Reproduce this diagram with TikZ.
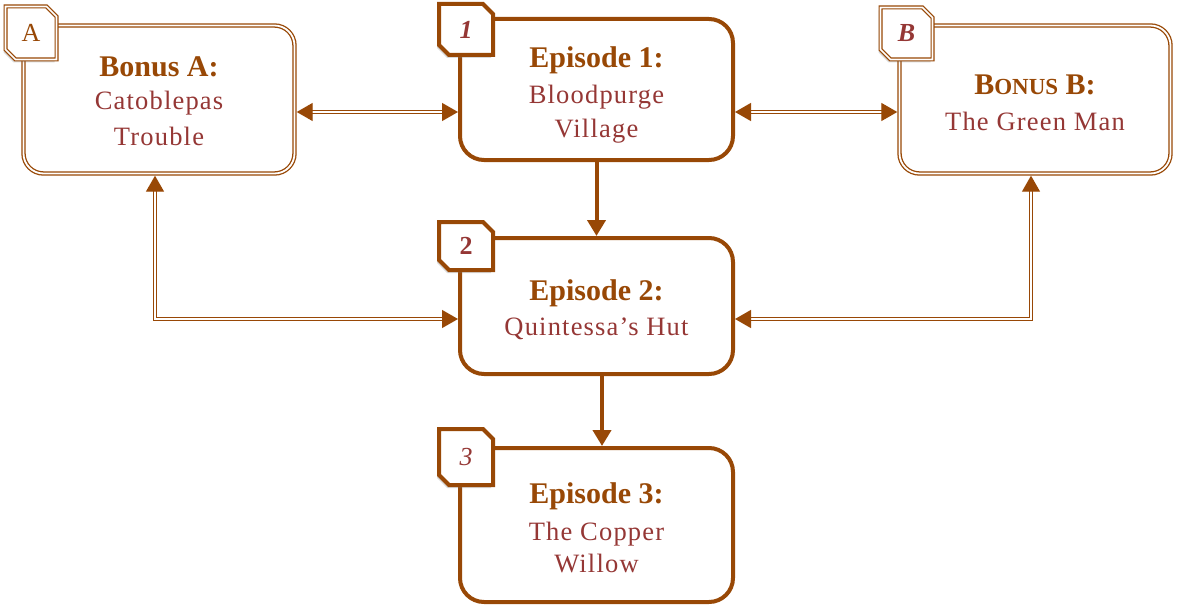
\documentclass[tikz,border=0pt]{standalone}
\usepackage{fontspec}
\setmainfont{Liberation Serif}
\newfontfamily\subf[LetterSpace=4.5]{Liberation Serif}
\usetikzlibrary{arrows.meta,shapes.misc,shadows}
\definecolor{brn}{RGB}{152,72,6}
\definecolor{rd}{RGB}{149,55,53}
\begin{document}
\begin{tikzpicture}[x=1pt,y=-1pt,
  >={Triangle[length=16pt,width=18pt]},
  epbox/.style={draw=brn, line width=4pt, rounded corners=24pt, fill=white},
  bonbox/.style={draw=brn, double=white, line width=1.3pt, double distance=1.8pt, rounded corners=20pt, fill=white, outer sep=2.2pt},
  tabbase/.style={chamfered rectangle, chamfered rectangle corners={north east,south west}, chamfered rectangle xsep=5pt, chamfered rectangle ysep=5pt, fill=white, inner sep=0pt, drop shadow={shadow xshift=-2pt, shadow yshift=-3pt, opacity=0.3}},
  eptab/.style={tabbase, draw=brn, line width=4pt, text=rd},
  bontab/.style={tabbase, draw=brn, double=white, line width=1.2pt, double distance=1.6pt},
  head/.style={anchor=base, text=brn, font=\fontsize{30}{30}\selectfont\bfseries, inner sep=0pt},
  sub/.style={anchor=base, text=rd, font=\fontsize{26.5}{33}\selectfont\subf, inner sep=0pt},
  dblcon/.style={draw=brn, double=white, line width=1.3pt, double distance=1.6pt},
  sglcon/.style={draw=brn, line width=4pt},
  tabtxt/.style={font=\fontsize{26}{26}\selectfont}
]
\useasboundingbox (0,0) rectangle (1177,607);
% boxes
\node[bonbox, minimum width=271pt, minimum height=148pt] (bA) at (159,99.5) {};
\node[epbox, minimum width=273pt, minimum height=141pt] (e1) at (596.5,89.5) {};
\node[bonbox, minimum width=271pt, minimum height=148pt] (bB) at (1035,99.5) {};
\node[epbox, minimum width=273pt, minimum height=136pt] (e2) at (596.5,306) {};
\node[epbox, minimum width=273pt, minimum height=154pt] (e3) at (596.5,525) {};
% helper coordinates
\coordinate (yTop) at (0,112);
\coordinate (yMid) at (0,319);
\coordinate (xL) at (155,0);
\coordinate (xR) at (1031,0);
\coordinate (xD) at (602,0);
% connectors
\draw[dblcon,<->] (bA.east |- yTop) -- (e1.west |- yTop);
\draw[dblcon,<->] (e1.east |- yTop) -- (bB.west |- yTop);
\draw[sglcon,->] (e1.south) -- (e2.north);
\draw[sglcon,->] (e2.south -| xD) -- (e3.north -| xD);
\draw[dblcon,<->] (bA.south -| xL) |- (e2.west |- yMid);
\draw[dblcon,<->] (e2.east |- yMid) -| (bB.south -| xR);
% tabs
\node[bontab, tabtxt, text=brn, minimum width=51pt, minimum height=53pt] (tA) at (31,33) {A};
\node[eptab, tabtxt, minimum width=54pt, minimum height=51pt] (t1) at (466,29.5) {\bfseries\itshape 1};
\node[bontab, tabtxt, text=rd, minimum width=52pt, minimum height=52pt] (tB) at (906.5,33.5) {\bfseries\itshape B};
\node[eptab, tabtxt, minimum width=54pt, minimum height=48pt] (t2) at (466,246) {\bfseries 2};
\node[eptab, tabtxt, minimum width=54pt, minimum height=56pt] (t3) at (466,457) {\itshape 3};
% texts
\node[head] (hA) at (159,77) {Bonus A:};
\node[sub] (sA1) at (159,110) {Catoblepas};
\node[sub] (sA2) at (159,146) {Trouble};
\node[head] (h1) at (596.5,68) {Episode 1:};
\node[sub] (s11) at (596.5,103) {Bloodpurge};
\node[sub] (s12) at (596.5,137) {Village};
\node[head] (hB) at (1035,95) {B{\fontsize{23}{23}\selectfont ONUS} B:};
\node[sub] (sB) at (1035,131) {The Green Man};
\node[head] (h2) at (596.5,300) {Episode 2:};
\node[sub] (s2) at (596.5,335) {Quintessa’s Hut};
\node[head] (h3) at (596.5,503) {Episode 3:};
\node[sub] (s31) at (596.5,540) {The Copper};
\node[sub] (s32) at (596.5,572) {Willow};
\end{tikzpicture}
\end{document}
